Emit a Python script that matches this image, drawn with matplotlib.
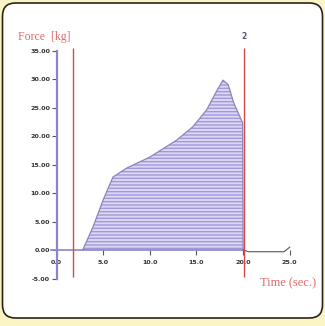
import matplotlib
matplotlib.use("Agg")
import matplotlib.pyplot as plt
from matplotlib.patches import FancyBboxPatch

# ---- data ----
time_s = [2.8, 3.9, 5.0, 6.05, 7.55, 10.0, 12.9, 14.6, 16.1, 17.2, 17.85, 18.4, 19.0, 19.95, 20.0]
force_kg = [0.0, 4.0, 8.8, 12.8, 14.4, 16.3, 19.3, 21.6, 24.6, 28.0, 29.8, 29.0, 25.8, 22.3, 0.0]
tail_t = [20.0, 20.6, 24.4, 25.0]
tail_f = [0.0, -0.3, -0.3, 0.5]
marker_t = [1.75, 20.1]
marker_labels = ["", "2"]
x_ticks = [0.0, 5.0, 10.0, 15.0, 20.0, 25.0]
y_ticks = [-5.0, 0.0, 5.0, 10.0, 15.0, 20.0, 25.0, 30.0, 35.0]

plt.rcParams['hatch.linewidth'] = 1.0
plt.rcParams['hatch.color'] = '#a29ad8'

W, H = 325, 326
fig = plt.figure(figsize=(W / 100, H / 100), dpi=100)
fig.patch.set_facecolor('#fbf4c4')

box = FancyBboxPatch((2.5 / W, 1 - 318 / H), 320 / W, 315 / H,
                     boxstyle="round,pad=0,rounding_size=0.04",
                     transform=fig.transFigure, facecolor='white',
                     edgecolor='#2a2418', linewidth=1.2, zorder=-10)
fig.patches.append(box)

ax = fig.add_axes([0, 0, 1, 1])
ax.set_zorder(5)
ax.set_facecolor('none')
ax.set_xlim(-6.06, 28.78)
ax.set_ylim(-13.33, 43.86)

axis_col = '#8a86c8'
for s in ['top', 'right']:
    ax.spines[s].set_visible(False)
ax.spines['left'].set_position(('data', 0))
ax.spines['bottom'].set_position(('data', 0))
ax.spines['left'].set_bounds(-5, 35)
ax.spines['bottom'].set_bounds(-0.6, 20)
ax.spines['left'].set_color(axis_col)
ax.spines['bottom'].set_color(axis_col)
ax.spines['left'].set_linewidth(1.6)
ax.spines['bottom'].set_linewidth(1.2)

ax.set_xticks(x_ticks)
ax.set_xticklabels(["%.1f" % v for v in x_ticks])
ax.set_yticks(y_ticks)
ax.set_yticklabels(["%.2f" % v for v in y_ticks])
ax.tick_params(axis='both', direction='out', length=3.5, width=0.8,
               color='#555566', labelsize=4.6, labelcolor='#333333')
ax.tick_params(axis='y', pad=1)
ax.tick_params(axis='x', pad=3.5)
for lbl in ax.get_xticklabels() + ax.get_yticklabels():
    lbl.set_fontweight('bold')

# filled force curve with horizontal stripes
ax.fill_between(time_s, force_kg, 0, facecolor='#dcd7f4', edgecolor='#a29ad8',
                hatch='-----', linewidth=0, zorder=2)
ax.plot(time_s, force_kg, color='#8a86b8', linewidth=0.9, zorder=3)
ax.plot(tail_t, tail_f, color='#555560', linewidth=0.8, zorder=3)

# red marker lines
ax.vlines(marker_t, -4.8, 35.5, colors='#d44a4a', linewidth=1.0, zorder=4)
for t, lab in zip(marker_t, marker_labels):
    if lab:
        ax.text(t, 37.5, lab, ha='center', va='center', fontsize=5.5,
                color='#55557a', fontweight='bold', family='DejaVu Sans')

fig.text(44.5 / W, 1 - 37 / H, "Force  [kg]", ha='center', va='center',
         fontsize=8.5, color='#e06868', family='Liberation Serif', zorder=6)
fig.text(288.5 / W, 1 - 283 / H, "Time (sec.)", ha='center', va='center',
         fontsize=9, color='#e06868', family='Liberation Serif', zorder=6)

fig.savefig('out.png', dpi=100, facecolor=fig.get_facecolor())
